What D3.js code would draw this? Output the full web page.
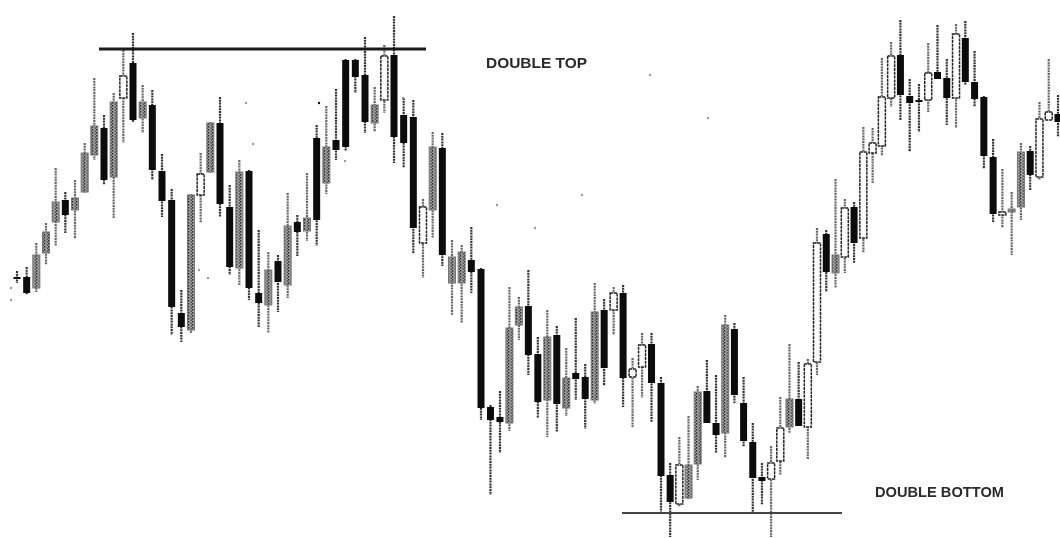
<!DOCTYPE html>
<html><head><meta charset="utf-8">
<script src="https://cdn.jsdelivr.net/npm/d3@7/dist/d3.min.js"></script>
<style>html,body{margin:0;padding:0;background:#fff;overflow:hidden}svg{display:block;filter:blur(.6px)}</style>
</head><body><svg id="c" width="1060" height="538"></svg>
<script>
const high=[267,271,295,315,370,346,358,395,460,423,445,488,505,453,448,384,349,248,344,385,416,441,353,378,368,308,286,283,345,323,365,413,432,449,479,479,501,451,493,522,440,438,339,406,405,298,293,311,270,133,147,251,241,268,201,228,212,190,220,174,255,239,251,253,180,205,205,161,75,101,122,152,178,163,223,215,161,115,75,92,141,194,176,179,310,308,359,339,336,411,410,480,496,518,459,454,495,513,479,514,517,487,442,399,369,346,395,392,436,479,443];
const low=[255,243,246,273,292,305,299,345,378,353,320,395,416,405,358,321,203,196,205,315,365,321,263,253,238,211,205,226,240,282,297,292,344,378,387,445,405,406,425,375,370,284,260,300,272,223,215,245,118,43,85,107,198,163,120,101,106,122,138,109,134,152,203,131,111,140,116,25,1,31,39,58,115,85,80,135,91,26,33,1,63,105,112,79,163,246,250,265,275,285,355,382,431,418,386,406,426,459,413,410,453,431,369,316,310,283,318,348,358,418,401];
const bodyTop=[261,261,283,306,336,338,340,385,412,410,436,462,475,436,433,367,338,225,343,364,415,415,331,366,367,245,268,277,312,316,320,400,391,398,478,478,463,433,482,483,423,421,331,391,390,281,286,278,269,131,121,210,231,232,184,201,203,160,165,161,226,228,245,245,169,193,194,155,63,73,73,146,147,115,213,209,135,96,61,75,110,139,139,174,295,304,283,330,331,386,395,441,482,483,442,438,465,466,460,504,500,456,441,381,326,329,386,387,419,426,424];
const bodyBottom=[259,245,250,285,316,323,328,346,383,358,361,440,418,420,368,337,231,211,208,343,366,334,271,270,250,235,233,256,253,306,307,318,355,388,391,461,416,415,438,401,395,310,295,328,283,255,255,266,130,118,116,115,213,183,136,138,134,130,159,139,138,170,228,160,161,171,155,62,36,34,40,74,115,103,105,143,97,60,57,59,77,111,112,111,176,266,265,281,295,300,385,392,440,443,435,437,438,459,440,440,456,439,382,324,323,326,331,363,361,418,416];
const tone="kkgggkgggkghkgkkkkghgkkgkkgkgkgkgkkkkghkkkhgkggkkkkggkkgkgkkgkhkhhkkkhggkkgkkkkhhgkhhkghkhhhhkkkhkkhkkkkhggkhhk";
const speckX=[11,11,246,253,199,208,319,345,497,650,708,582,535,403];
const speckY=[250,238,435,394,268,260,435,377,333,463,420,343,310,440];
const labels=["DOUBLE TOP","DOUBLE BOTTOM"];
const levels=[489,25];

const svg=d3.select("#c");
const x=d3.scaleLinear().domain([1,49,68,85,111]).range([17,481,661,817,1058]);
const px=d3.scaleLinear().domain([0,1060]).range([0,1060]);
const y=d3.scaleLinear().domain([0,538]).range([538,0]);
const defs=svg.append("defs");
const p=defs.append("pattern").attr("id","st").attr("width",4).attr("height",3).attr("patternUnits","userSpaceOnUse");
p.append("rect").attr("width",4).attr("height",3).attr("fill","#a0a0a0");
p.append("rect").attr("x",0).attr("y",0).attr("width",1.3).attr("height",1.6).attr("fill","#2a2a2a");
p.append("rect").attr("x",2.6).attr("y",1.4).attr("width",1.3).attr("height",1.4).attr("fill","#3a3a3a");
const data=high.map((h,i)=>({i:i+1,h,l:low[i],t:bodyTop[i],b:bodyBottom[i],k:tone[i]}));
const g=svg.append("g");
g.selectAll("line.w").data(data).join("line").attr("class","w")
 .attr("x1",d=>x(d.i)).attr("x2",d=>x(d.i)).attr("y1",d=>y(d.h)).attr("y2",d=>y(d.l))
 .attr("stroke",d=>d.k==="k"?"#333":"#666").attr("stroke-width",2.2).attr("stroke-dasharray","2 .8");
g.selectAll("rect.b").data(data).join("rect").attr("class","b")
 .attr("x",d=>x(d.i)-3.5).attr("width",7)
 .attr("y",d=>y(d.t)).attr("height",d=>Math.max(2,y(d.b)-y(d.t)))
 .attr("fill",d=>d.k==="k"?"#0c0c0c":d.k==="g"?"url(#st)":"#fff")
 .attr("stroke",d=>d.k==="h"?"#222":d.k==="g"?"#777":"none").attr("stroke-width",d=>d.k==="h"?1.5:1)
 .attr("stroke-dasharray",d=>d.k==="h"?"3 .8":null);
svg.selectAll("circle").data(speckX).join("circle").attr("cx",d=>px(d)).attr("cy",(d,i)=>y(speckY[i])).attr("r",1.2).attr("fill",(d,i)=>i===6?"#111":"#999");
const lines=[{a:99,b:426,v:levels[0],w:3.2,c:"#1a1a1a"},{a:622,b:842,v:levels[1],w:2.2,c:"#444"}];
svg.selectAll("line.lvl").data(lines).join("line").attr("class","lvl")
 .attr("x1",d=>px(d.a)).attr("x2",d=>px(d.b)).attr("y1",d=>y(d.v)).attr("y2",d=>y(d.v))
 .attr("stroke",d=>d.c).attr("stroke-width",d=>d.w);
svg.selectAll("text").data([{t:labels[0],a:486,b:101,v:470},{t:labels[1],a:875,b:129,v:41}]).join("text")
 .attr("x",d=>px(d.a)).attr("y",d=>y(d.v)).attr("textLength",d=>d.b).attr("lengthAdjust","spacingAndGlyphs")
 .attr("font-family","Liberation Sans").attr("font-weight","bold").attr("font-size",14).attr("fill","#2a2a2a").text(d=>d.t);
</script></body></html>
